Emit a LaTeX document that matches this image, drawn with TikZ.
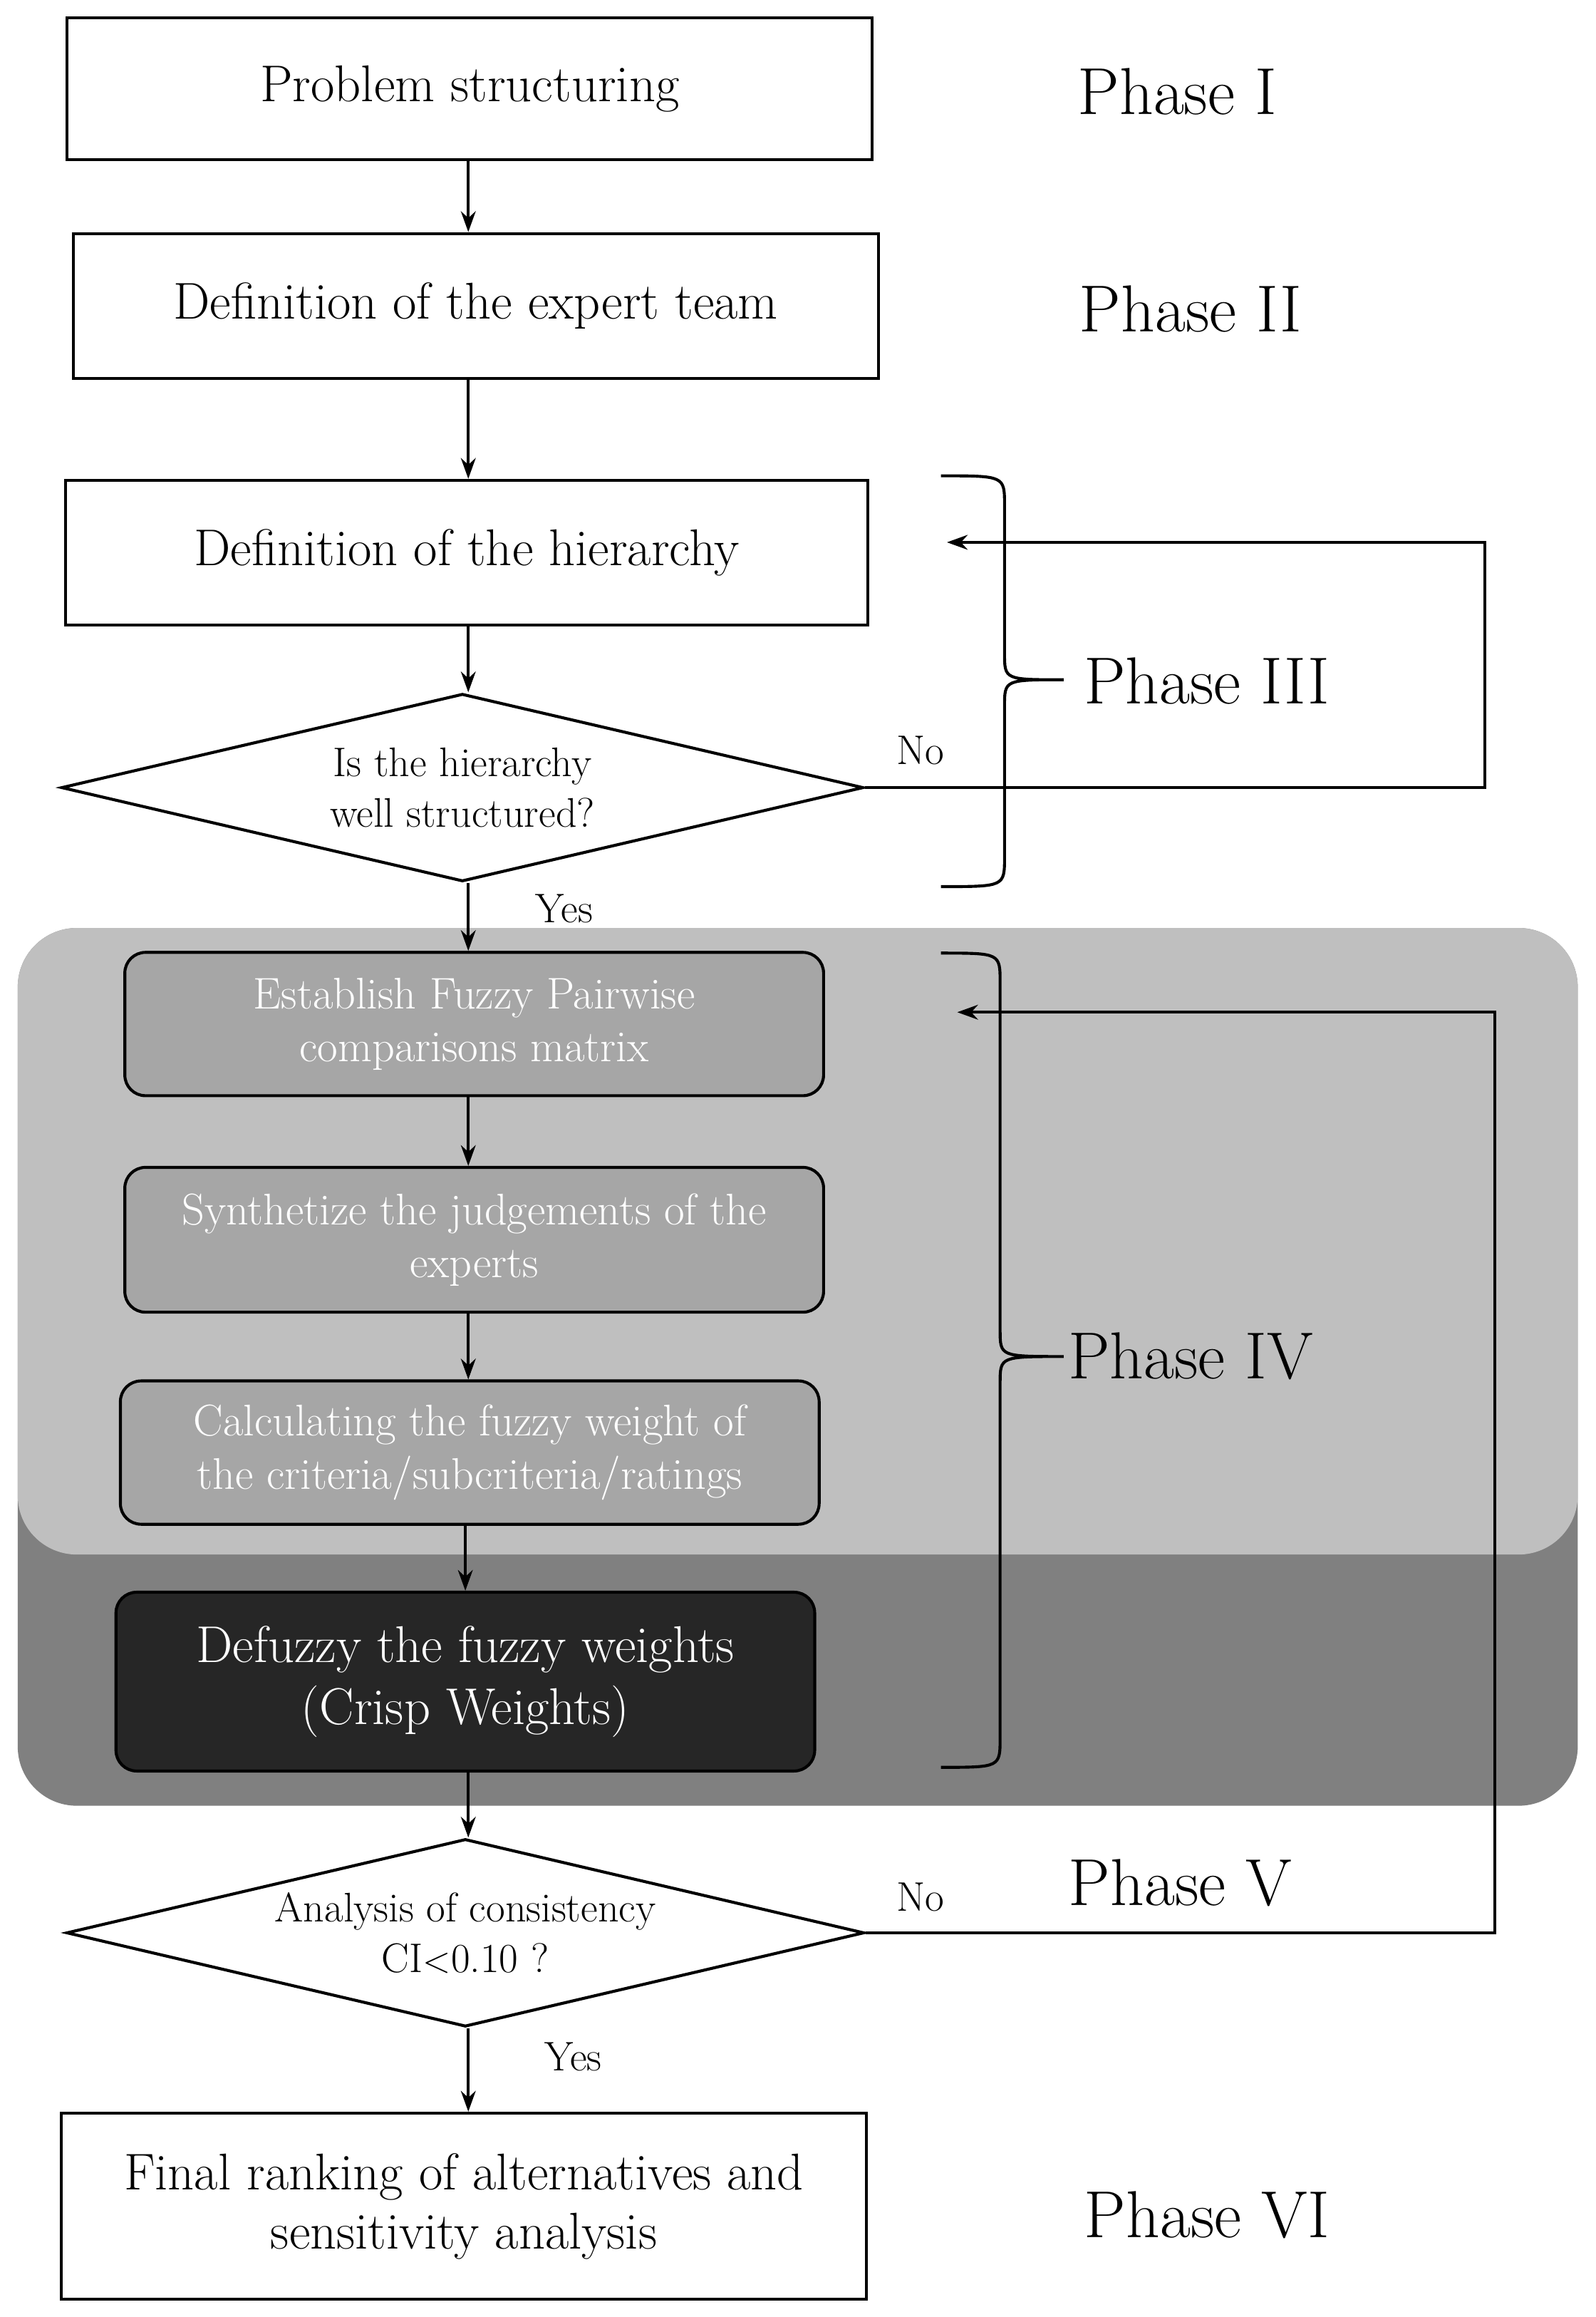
\documentclass[tikz,border=0pt]{standalone}
\usetikzlibrary{shapes.geometric,arrows.meta}
\begin{document}
\begin{tikzpicture}[x=1pt,y=-1pt,line width=2pt,
 box/.style={draw,rectangle,inner sep=0pt,align=center,font=\fontsize{35}{40}\selectfont},
 gbox/.style={draw,rounded corners=14pt,fill=gray!70,text=white,inner sep=0pt,align=center,font=\fontsize{30}{36}\selectfont},
 dia/.style={draw,diamond,aspect=4.3,inner sep=0pt,align=center,font=\fontsize{28}{34}\selectfont},
 ph/.style={font=\fontsize{45}{50}\selectfont},
 lab/.style={font=\fontsize{28}{30}\selectfont},
 arr/.style={-{Stealth[length=14pt,width=10pt]}}]
\useasboundingbox (0,0) rectangle (1080,1568);
\fill[fill=black!50,rounded corners=40pt] (12,628) rectangle (1068,1222);
\fill[fill=black!25,rounded corners=40pt] (12,628) rectangle (1068,1052);
\node[box,minimum width=545,minimum height=96] (b1) at (318,60) {Problem structuring};
\node[box,minimum width=545,minimum height=98] (b2) at (322,207) {Definition of the expert team};
\node[box,minimum width=543,minimum height=98] (b3) at (316,374) {Definition of the hierarchy};
\node[dia,minimum width=543,minimum height=127] (d1) at (313,533) {Is the hierarchy\\well structured?};
\node[gbox,minimum width=473,minimum height=97] (b4) at (321,693) {Establish Fuzzy Pairwise\\comparisons matrix};
\node[gbox,minimum width=473,minimum height=98] (b5) at (321,839) {Synthetize the judgements of the\\experts};
\node[gbox,minimum width=473,minimum height=97] (b6) at (318,983) {Calculating the fuzzy weight of\\the criteria/subcriteria/ratings};
\node[gbox,fill=black!85,minimum width=473,minimum height=121,font=\fontsize{35}{42}\selectfont] (b7) at (315,1138) {Defuzzy the fuzzy weights\\(Crisp Weights)};
\node[dia,minimum width=540,minimum height=127] (d2) at (315,1308) {Analysis of consistency\\CI$<$0.10 ?};
\node[box,minimum width=545,minimum height=126] (b8) at (314,1493) {Final ranking of alternatives and\\sensitivity analysis};
\node[ph] (p1) at (797,62) {Phase I};
\node[ph] (p2) at (806,209) {Phase II};
\node[ph] (p3) at (817,461) {Phase III};
\node[ph] (p4) at (806,918) {Phase IV};
\node[ph] (p5) at (799,1274) {Phase V};
\node[ph] (p6) at (817,1499) {Phase VI};
\node[lab] (no1) at (623,508) {No};
\node[lab] (yes1) at (382,615) {Yes};
\node[lab] (no2) at (623,1284) {No};
\node[lab] (yes2) at (388,1392) {Yes};
\coordinate (t3) at (641,367);
\coordinate (t4) at (648,685);
\coordinate (ax) at (317,0);
\draw[arr] (ax |- b1.south) -- (ax |- b2.north);
\draw[arr] (ax |- b2.south) -- (ax |- b3.north);
\draw[arr] (ax |- b3.south) -- (ax |- d1.north);
\draw[arr] (ax |- d1.south) -- (ax |- b4.north);
\draw[arr] (ax |- b4.south) -- (ax |- b5.north);
\draw[arr] (ax |- b5.south) -- (ax |- b6.north);
\draw[arr] (315,0 |- b6.south) -- (315,0 |- b7.north);
\draw[arr] (ax |- b7.south) -- (ax |- d2.north);
\draw[arr] (ax |- d2.south) -- (ax |- b8.north);
\draw[arr] (d1.east) -- (1005,533) -- (1005,367) -- (t3);
\draw[arr] (d2.east) -- (1012,1308) -- (1012,685) -- (t4);
\draw (637,322) .. controls (680,322) .. (680,342) -- (680,442) .. controls (680,460) .. (720,460)
      .. controls (680,460) .. (680,478) -- (680,580) .. controls (680,600) .. (637,600);
\draw (637,645) .. controls (677,645) .. (677,665) -- (677,900) .. controls (677,918) .. (720,918)
      .. controls (677,918) .. (677,936) -- (677,1176) .. controls (677,1196) .. (637,1196);
\end{tikzpicture}
\end{document}
